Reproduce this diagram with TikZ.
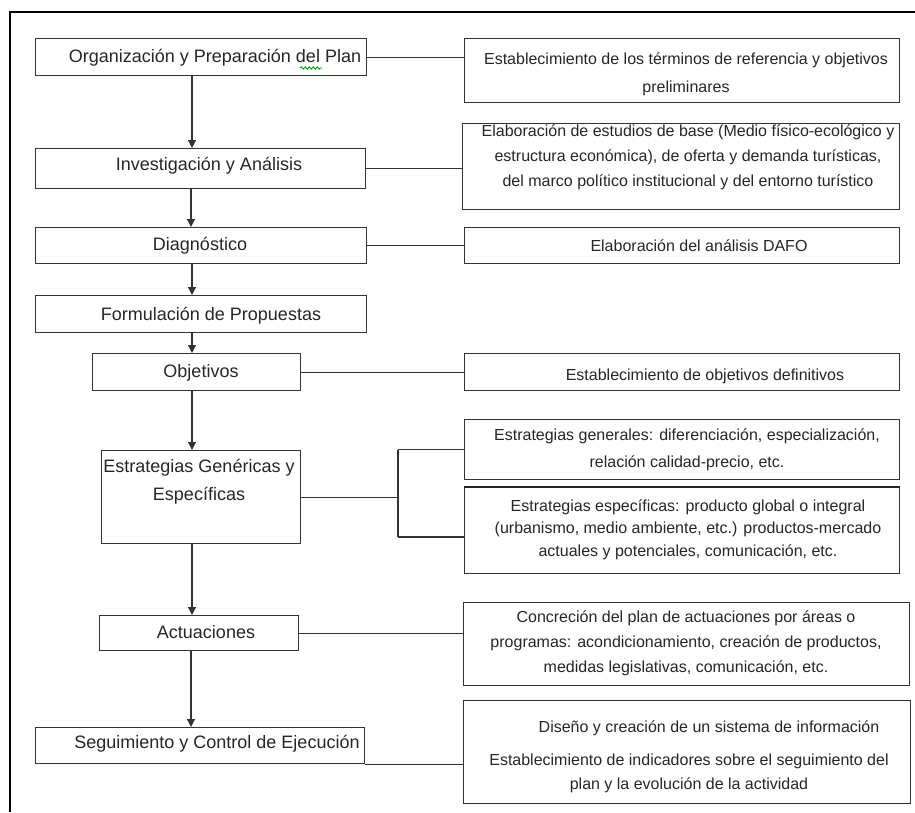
\documentclass[tikz,border=0pt]{standalone}
\usepackage{fontspec}
\setmainfont{Liberation Sans}
\usetikzlibrary{arrows.meta,decorations.pathmorphing}
\begin{document}
\begin{tikzpicture}[x=1pt,y=-1pt,
  boxshape/.style={draw=black!80,line width=1.2pt,rectangle,inner sep=0pt,anchor=north west},
  ltext/.style={inner sep=0pt,font=\fontsize{18}{22}\selectfont,text=black!85},
  rtext/.style={inner sep=0pt,align=center,text=black!85},
  link/.style={draw=black!80,line width=1.2pt},
  flow/.style={link,-{Triangle[width=8pt,length=8pt]}}]
\useasboundingbox (0,0) rectangle (915,812);
% outer frame (only top and left visible)
\draw[line width=1.6pt] (10,812) -- (10,12) -- (915,12);

% left column boxes
\node[boxshape,minimum width=331pt,minimum height=37pt] (b1) at (35,38) {};
\node[boxshape,minimum width=330pt,minimum height=40pt] (b2) at (35,148) {};
\node[boxshape,minimum width=331pt,minimum height=36pt] (b3) at (35,227) {};
\node[boxshape,minimum width=331pt,minimum height=37pt] (b4) at (35,295) {};
\node[boxshape,minimum width=208pt,minimum height=37pt] (b5) at (92,353) {};
\node[boxshape,minimum width=199pt,minimum height=93pt] (b6) at (101,450) {};
\node[boxshape,minimum width=199pt,minimum height=35pt] (b7) at (99,615) {};
\node[boxshape,minimum width=329pt,minimum height=36pt] (b8) at (35,727) {};

\node[ltext] (t1) at (215,58) {Organización y Preparación del Plan};
\node[ltext] (t2) at (209,166) {Investigación y Análisis};
\node[ltext] (t3) at (200,246) {Diagnóstico};
\node[ltext] (t4) at (211,316) {Formulación de Propuestas};
\node[ltext] (t5) at (201,373) {Objetivos};
\node[ltext,align=center,font=\fontsize{18}{28}\selectfont] (t6) at (199,482) {Estrategias Genéricas y\\Específicas};
\node[ltext] (t7) at (206,632) {Actuaciones};
\node[ltext] (t8) at (217,744) {Seguimiento y Control de Ejecución};
\draw[green!60!black,line width=0.8pt,decorate,decoration={snake,amplitude=1.2pt,segment length=4pt}] (300,68) -- (322,68);

% right column boxes
\node[boxshape,minimum width=435pt,minimum height=64pt] (r1) at (464,38) {};
\node[boxshape,minimum width=437pt,minimum height=86pt] (r2) at (462,123) {};
\node[boxshape,minimum width=435pt,minimum height=36pt] (r3) at (464,227) {};
\node[boxshape,minimum width=435pt,minimum height=37pt] (r5) at (464,353) {};
\node[boxshape,minimum width=435pt,minimum height=60pt] (r6a) at (464,419) {};
\node[boxshape,minimum width=435pt,minimum height=86pt] (r6b) at (464,487) {};
\node[boxshape,minimum width=446pt,minimum height=83pt] (r7) at (463,602) {};
\node[boxshape,minimum width=447pt,minimum height=103pt] (r8) at (463,700) {};
\draw[draw=black!85,line width=2.4pt] (r6b.north west) -- (r6b.north east);

\node[rtext,font=\fontsize{16}{28}\selectfont] (s1) at (686,74) {Establecimiento de los términos de referencia y objetivos\\preliminares};
\node[rtext,font=\fontsize{16}{25}\selectfont] (s2) at (688,157) {Elaboración de estudios de base (Medio físico-ecológico y\\estructura económica), de oferta y demanda turísticas,\\del marco político institucional y del entorno turístico};
\node[rtext,font=\fontsize{16}{25}\selectfont] (s3) at (699,246) {Elaboración del análisis DAFO};
\node[rtext,font=\fontsize{16}{25}\selectfont] (s5) at (705,376) {Establecimiento de objetivos definitivos};
\node[rtext,font=\fontsize{16}{27}\selectfont] (s6a) at (687,449.5) {Estrategias generales: diferenciación, especialización,\\relación calidad-precio, etc.};
\node[rtext,font=\fontsize{16}{22.5}\selectfont] (s6b) at (688,529.5) {Estrategias específicas: producto global o integral\\(urbanismo, medio ambiente, etc.) productos-mercado\\actuales y potenciales, comunicación, etc.};
\node[rtext,font=\fontsize{16}{25}\selectfont] (s7) at (686,643) {Concreción del plan de actuaciones por áreas o\\programas: acondicionamiento, creación de productos,\\medidas legislativas, comunicación, etc.};
\node[rtext,font=\fontsize{16}{25}\selectfont] (s8a) at (709,728) {Diseño y creación de un sistema de información};
\node[rtext,font=\fontsize{16}{24}\selectfont] (s8b) at (689,773) {Establecimiento de indicadores sobre el seguimiento del\\plan y la evolución de la actividad};

% vertical flow arrows
\coordinate (ax) at (192,0);
\coordinate (ay) at (191,0);
\draw[flow] (b1.south -| ax) -- (b2.north -| ax);
\draw[flow] (b2.south -| ay) -- (b3.north -| ay);
\draw[flow] (b3.south -| ax) -- (b4.north -| ax);
\draw[flow] (b4.south -| ax) -- (b5.north -| ax);
\draw[flow] (b5.south -| ax) -- (b6.north -| ax);
\draw[flow] (b6.south -| ax) -- (b7.north -| ax);
\draw[flow] (b7.south -| ay) -- (b8.north -| ay);

% horizontal links
\draw[link] (b1.east) -- (b1.east -| r1.west);
\draw[link] (b2.east) -- (b2.east -| r2.west);
\draw[link] (b3.east) -- (b3.east -| r3.west);
\draw[link] (b5.east) -- (b5.east -| r5.west);
\coordinate (jx) at (398,0);
\coordinate (jlow) at (0,537);
\draw[link] (b6.east) -- (b6.east -| jx);
\draw[link] (r6a.west -| jx) -- (jlow -| jx);
\draw[link] (r6a.west -| jx) -- (r6a.west);
\draw[link] (jlow -| jx) -- (jlow -| r6b.west);
\draw[link] (b7.east) -- (b7.east -| r7.west);
\draw[link] (b8.south east) -- (b8.south east -| r8.west);
\end{tikzpicture}
\end{document}
